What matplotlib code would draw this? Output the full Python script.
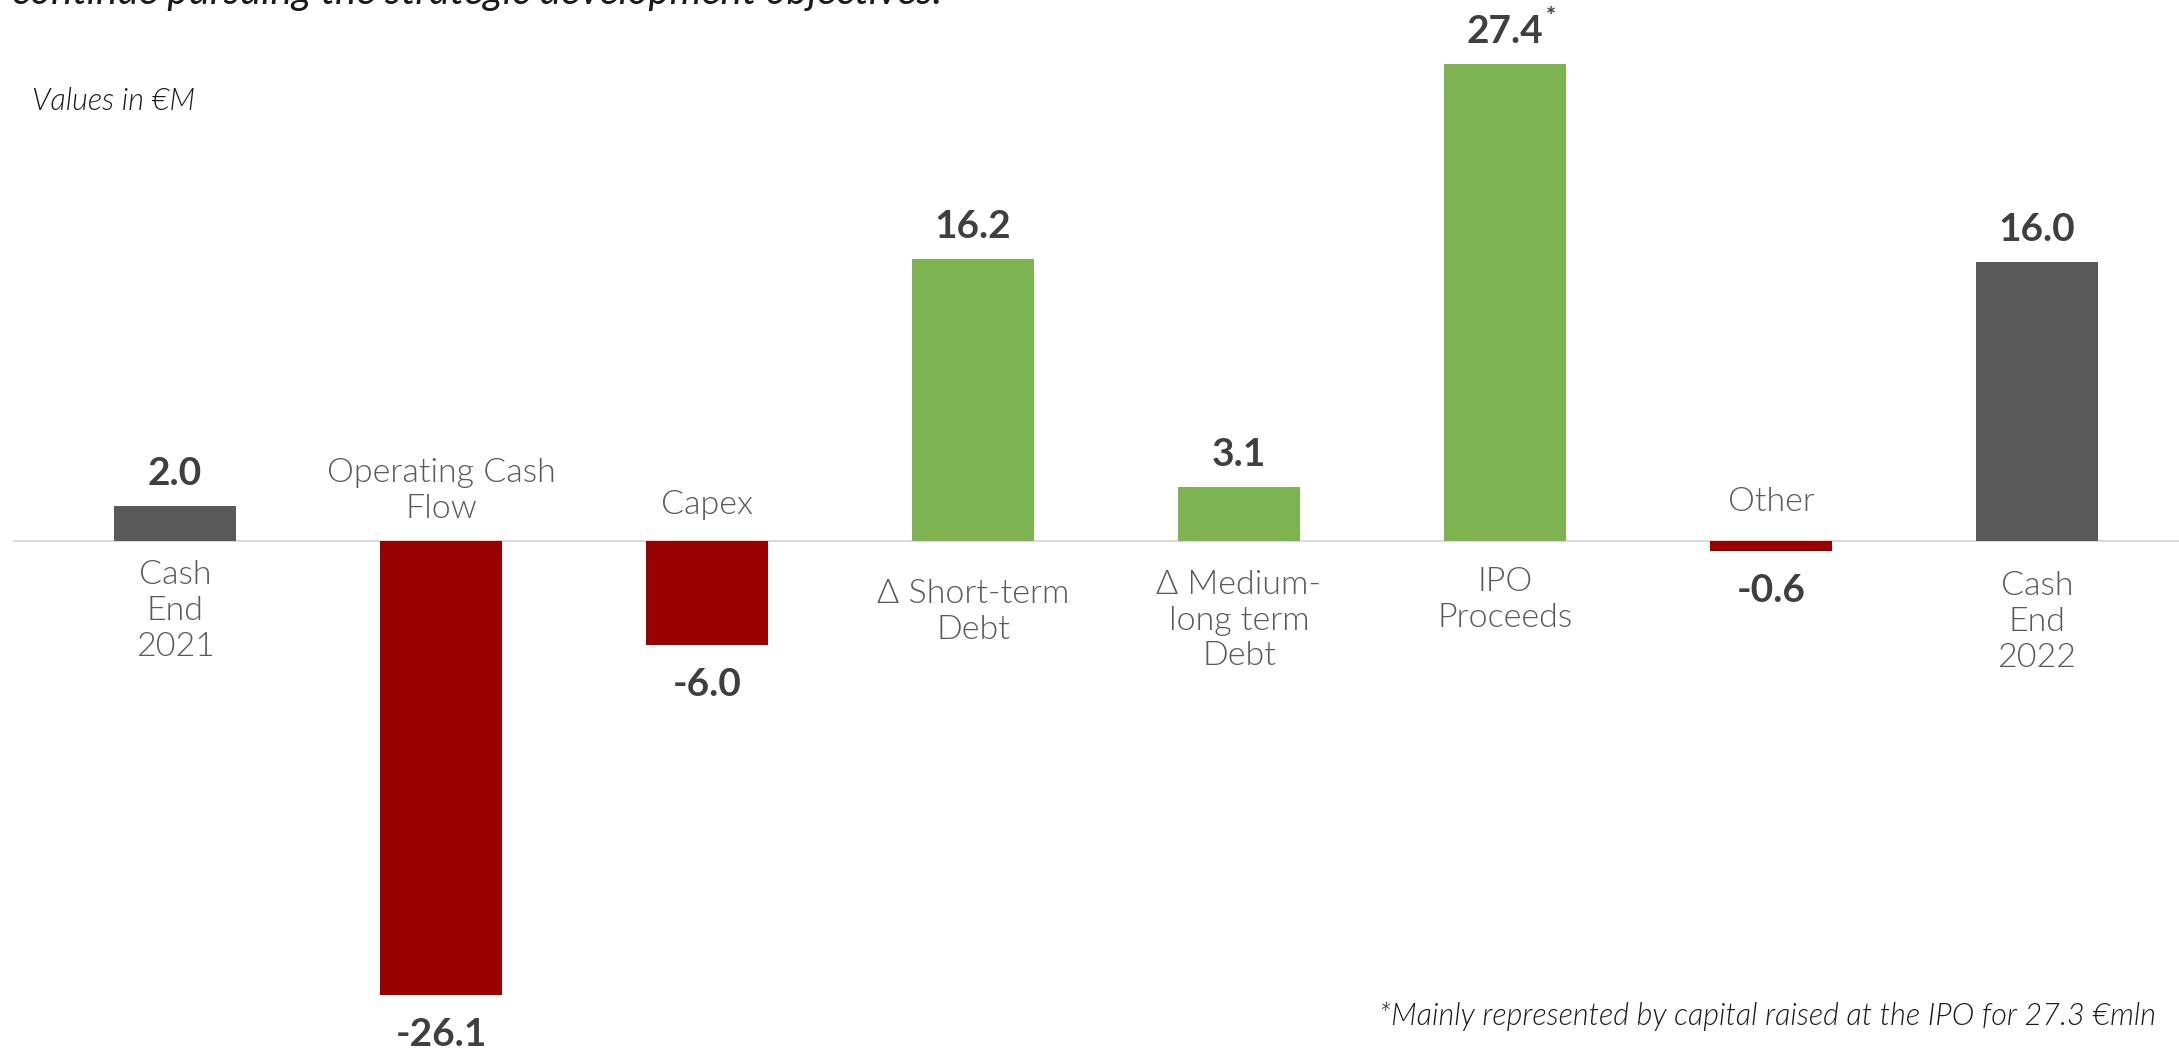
import numpy as np
import matplotlib
matplotlib.use("Agg")
import matplotlib.pyplot as plt

# chart data (values in EUR M)
categories = ["Cash\nEnd\n2021", "Operating Cash\nFlow", "Capex", "Δ Short-term\nDebt",
              "Δ Medium-\nlong term\nDebt", "IPO\nProceeds", "Other", "Cash\nEnd\n2022"]
values = [2.0, -26.1, -6.0, 16.2, 3.1, 27.4, -0.6, 16.0]
kinds = ["total", "flow", "flow", "flow", "flow", "flow", "flow", "total"]

title_text = "continue pursuing the strategic development objectives."
unit_text = "Values in €M"
footnote = "*Mainly represented by capital raised at the IPO for 27.3 €mln"

GREY = "#595959"
RED = "#990000"
GREEN = "#7db451"
LABEL = "#595959"
VALUE = "#3f3f3f"
FONT = ["Lato", "DejaVu Sans"]

# gap (pt) between zero line and category label, per bar
label_gap = [14, 12, 15, 28, 21, 19, 17, 22]


def bar_color(v, k):
    if k == "total":
        return GREY
    return GREEN if v > 0 else RED


def main():
    fig = plt.figure(figsize=(21.79, 10.53), dpi=100)
    ax = fig.add_axes([0, 0, 1, 1])
    x = np.arange(len(values))
    colors = [bar_color(v, k) for v, k in zip(values, kinds)]

    ax.bar(x, values, width=0.46, color=colors, zorder=2)
    ax.plot([-0.605, 7.6], [0, 0], color="#d9d9d9", lw=1.4, zorder=1)

    ax.set_xlim(-0.658, 7.534)
    ax.set_ylim(-29.45, 31.07)
    ax.axis("off")

    for i, (v, cat) in enumerate(zip(values, categories)):
        txt = "%.1f" % v
        if v > 0:
            ax.annotate(txt, (i, v), xytext=(0, 15), textcoords="offset points",
                        ha="center", va="baseline", fontsize=28, fontweight="bold",
                        color=VALUE, family=FONT)
            ax.annotate(cat, (i, 0), xytext=(0, -label_gap[i]), textcoords="offset points",
                        ha="center", va="top", fontsize=24.5, fontweight=300,
                        color=LABEL, family=FONT, linespacing=1.24)
        else:
            ax.annotate(txt, (i, v), xytext=(0, -37), textcoords="offset points",
                        ha="center", va="baseline", fontsize=28, fontweight="bold",
                        color=VALUE, family=FONT)
            ax.annotate(cat, (i, 0), xytext=(0, label_gap[i]), textcoords="offset points",
                        ha="center", va="bottom", fontsize=24.5, fontweight=300,
                        color=LABEL, family=FONT, linespacing=1.24)

    # asterisk on IPO value
    ipo = categories.index("IPO\nProceeds")
    ax.annotate("*", (ipo, values[ipo]), xytext=(29, 28), textcoords="offset points",
                ha="left", va="baseline", fontsize=17, fontweight="bold",
                color=VALUE, family=FONT)

    fig.text(12 / 2179, 1 - 4 / 1053, title_text, ha="left", va="baseline",
             fontsize=29, style="italic", color="#1a1a1a", family=FONT)
    fig.text(32 / 2179, 1 - 101 / 1053, unit_text, ha="left", va="center",
             fontsize=22, style="italic", fontweight=300, color="#1a1a1a", family=FONT)
    fig.text(1379 / 2179, 1 - 1016 / 1053, footnote, ha="left", va="center",
             fontsize=22, style="italic", fontweight=300, color="#1a1a1a", family=FONT)

    fig.savefig("out.png", dpi=100, facecolor="white")


if __name__ == "__main__":
    main()
